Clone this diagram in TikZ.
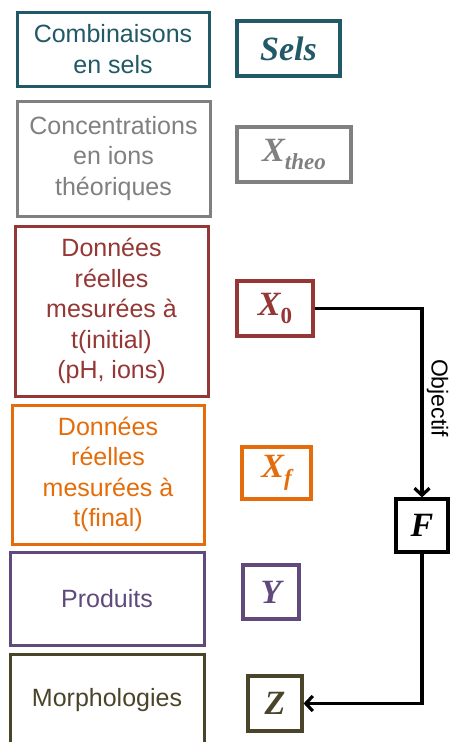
\documentclass[tikz,border=0pt]{standalone}
\usepackage{fontspec}
\setmainfont{Liberation Sans}
\newfontfamily\symfnt{Liberation Serif}
\usetikzlibrary{arrows.meta}
\definecolor{cteal}{HTML}{215967}
\definecolor{cgray}{HTML}{808080}
\definecolor{cred}{HTML}{953735}
\definecolor{corange}{HTML}{E46C0A}
\definecolor{cpurple}{HTML}{604A7B}
\definecolor{colive}{HTML}{4A452A}
\newcommand{\symsub}[2]{#1\raisebox{-8pt}{\fontsize{23}{25}\selectfont #2}}
\tikzset{
  bigbox/.style={draw=#1, text=#1, line width=3pt, fill=white, align=center, inner sep=0pt,
    font=\fontsize{25}{30.5}\selectfont},
  symbox/.style={draw=#1, text=#1, line width=3.2pt, fill=white, inner sep=0pt,
    font=\fontsize{34}{38}\selectfont\symfnt\bfseries\itshape},
  conn/.style={draw=black, line width=3.2pt, -{Straight Barb[length=7pt,width=15pt,line width=3.2pt]}}
}
\begin{document}
\begin{tikzpicture}[x=1pt,y=-1pt]
\useasboundingbox (0,0) rectangle (450,742);
\clip (0,0) rectangle (450,742);
% left boxes
\node[bigbox=cteal, minimum width=192pt, minimum height=74pt] (b1) at (113,49) {Combinaisons\\en sels};
\node[bigbox=cgray, minimum width=193pt, minimum height=115pt] (b2) at (113.5,158.5) {Concentrations\\en ions\\théoriques};
\node[bigbox=cred, minimum width=193pt, minimum height=170pt] (b3) at (111.5,311) {Données\\réelles\\mesurées à\\t(initial)\\(pH, ions)};
\node[bigbox=corange, minimum width=192pt, minimum height=139pt] (b4) at (108,474.5) {Données\\ réelles\\mesurées à\\t(final)};
\node[bigbox=cpurple, minimum width=194pt, minimum height=93pt] (b5) at (107,598.5) {Produits};
\node[bigbox=colive, minimum width=194pt, minimum height=92pt] (b6) at (107,700) {Morphologies};
% symbol boxes
\node[symbox=cteal, minimum width=103pt, minimum height=55pt] (sels) at (288.5,48.5) {Sels};
\node[symbox=cgray, minimum width=114pt, minimum height=55pt] (xtheo) at (294,154.5) {\symsub{X}{theo}};
\node[symbox=cred, minimum width=76pt, minimum height=55pt] (x0) at (275,308.5) {\symsub{X}{\upshape 0}};
\node[symbox=corange, minimum width=69pt, minimum height=52pt] (xf) at (276.5,473) {\symsub{X}{f}};
\node[symbox=cpurple, minimum width=56pt, minimum height=54pt] (y) at (271,592) {Y};
\node[symbox=colive, minimum width=54pt, minimum height=55pt] (z) at (275,703.5) {Z};
\node[symbox=black, minimum width=52pt, minimum height=53pt] (f) at (422,525.5) {F};
% connectors
\draw[conn] (x0.east) -| (f.north);
\draw[conn] (f.south) |- (z.east);
\node[rotate=-90, inner sep=0pt, font=\fontsize{23}{27}\selectfont] (obj) at (437.5,398) {Objectif};
\end{tikzpicture}
\end{document}
